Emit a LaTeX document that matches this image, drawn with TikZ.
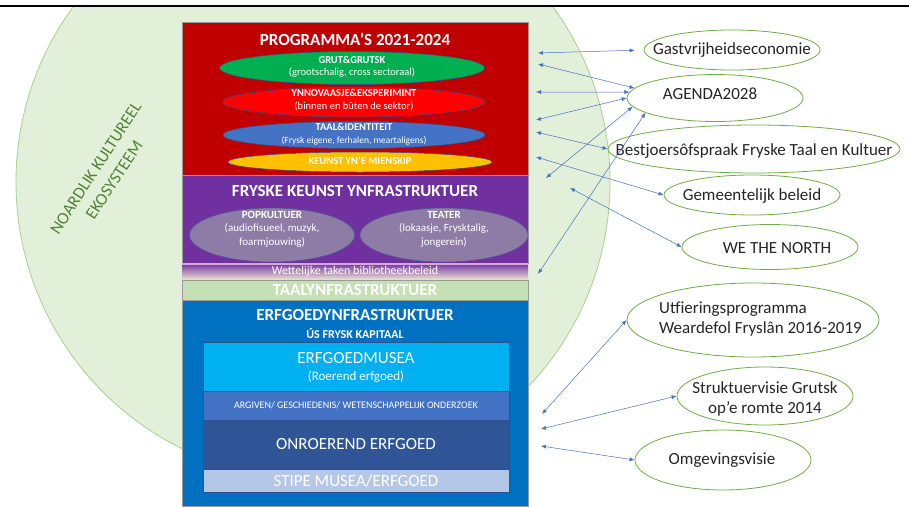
\documentclass[tikz,border=0pt]{standalone}
\usepackage{fontspec}
\setmainfont{Carlito}
\usetikzlibrary{arrows.meta, shapes.geometric}

\definecolor{progred}{HTML}{C00000}
\definecolor{fryskpurple}{HTML}{7030A0}
\definecolor{cream}{HTML}{EEE6D2}
\definecolor{lilac}{HTML}{D9A6D9}
\definecolor{taalgreen}{HTML}{C5E0B4}
\definecolor{erfblue}{HTML}{0070C0}
\definecolor{museablue}{HTML}{00B0F0}
\definecolor{argblue}{HTML}{4472C4}
\definecolor{onblue}{HTML}{2F5597}
\definecolor{stipeblue}{HTML}{B4C7E7}
\definecolor{darkblue}{HTML}{2F528F}
\definecolor{grutgreen}{HTML}{00B050}
\definecolor{ynred}{HTML}{FF0000}
\definecolor{keunstyellow}{HTML}{FFC000}
\definecolor{popfill}{HTML}{8E7CA6}
\definecolor{popline}{HTML}{4A5D8F}
\definecolor{circlefill}{HTML}{E2F0D9}
\definecolor{circleline}{HTML}{A9D18E}
\definecolor{extgreen}{HTML}{70AD47}
\definecolor{linkblue}{HTML}{4472C4}
\definecolor{darktext}{HTML}{262626}
\definecolor{labelgreen}{HTML}{548235}

\begin{document}
\begin{tikzpicture}[x=1pt, y=-1pt,
		layer/.style={rectangle, draw=gray!80, line width=0.4pt, minimum width=346pt, inner sep=0pt},
		inbox/.style={rectangle, draw=darkblue, line width=0.4pt, minimum width=306pt, inner sep=0pt},
		prog/.style={ellipse, draw=darkblue, line width=0.5pt, inner sep=0pt},
		pop/.style={ellipse, draw=popline, fill=popfill, line width=0.6pt, inner sep=0pt, minimum width=165pt, minimum height=54pt},
		ext/.style={ellipse, draw=extgreen, fill=white, line width=0.8pt, inner sep=0pt, minimum width=176pt},
		head/.style={text=white, inner sep=0pt, font=\bfseries\fontsize{17}{20}\selectfont},
		small/.style={text=white, align=center, inner sep=0pt, font=\fontsize{10.5}{12.5}\selectfont},
		exttext/.style={text=darktext, align=left, inner sep=0pt, font=\fontsize{17}{20}\selectfont},
		link/.style={<->, >={Latex[length=5pt, width=4pt]}, draw=linkblue, line width=0.5pt}
		]
		\useasboundingbox (0,0) rectangle (909,506);
		\begin{scope}
		\clip (0,6) rectangle (909,506);
		\node[circle, draw=circleline, fill=circlefill, line width=0.8pt, minimum size=594pt, inner sep=0pt] (C0) at (313,182) {};
		\end{scope}
		\draw[line width=1.2pt] (0,6) -- (909,6);
		\node[rotate=57, text=labelgreen, align=center, inner sep=0pt, font=\fontsize{17}{22}\selectfont] (N1) at (105,174) {NOARDLIK KULTUREEL\\EKOSYSTEEM};
		
		\node[layer, fill=progred, minimum height=153pt] (L1) at (355,98.5) {};
		\node[layer, fill=fryskpurple, minimum height=88pt] (L2) at (355,219) {};
		\node[layer, draw=none, top color=fryskpurple, bottom color=cream, minimum height=17pt] (L3) at (355,271.5) {};
		\draw[lilac, line width=2.5pt] (L3.north west) ++(0,1.25) -- ++(346,0);
		\node[layer, fill=taalgreen, minimum height=20pt] (L4) at (355,290) {};
		\node[layer, fill=erfblue, minimum height=206pt] (L5) at (355,403) {};
		\node[inbox, fill=museablue, minimum height=49pt] (B1) at (356,366.5) {};
		\node[inbox, fill=argblue, minimum height=29pt] (B2) at (356,405.5) {};
		\node[inbox, fill=onblue, minimum height=48pt] (B3) at (356,444) {};
		\node[inbox, fill=stipeblue, minimum height=23pt] (B4) at (356,480.5) {};
		
		\node[head] (T1) at (355,39) {PROGRAMMA’S 2021-2024};
		\node[prog, fill=grutgreen, minimum width=265pt, minimum height=33pt] (P1) at (352,68) {};
		\node[small] (T2) at (352,67) {\textbf{GRUT\&GRUTSK}\\(grootschalig, cross sectoraal)};
		\node[prog, fill=ynred, minimum width=262pt, minimum height=30pt] (P2) at (354,102) {};
		\node[small] (T3) at (354,100) {\textbf{YNNOVAASJE\&EKSPERIMINT}\\(binnen en bûten de sektor)};
		\node[prog, fill=argblue, minimum width=262pt, minimum height=27pt] (P3) at (354,135) {};
		\node[small] (T4) at (354,134) {\textbf{TAAL\&IDENTITEIT}\\{\fontsize{9.5}{11}\selectfont(Frysk eigene, ferhalen, meartaligens)}};
		\node[prog, fill=keunstyellow, minimum width=264pt, minimum height=20pt] (P4) at (360,162) {};
		\node[small, font=\bfseries\fontsize{10.5}{12.5}\selectfont] (T5) at (360,161) {KEUNST YN’E MIENSKIP};
		
		\node[head] (T6) at (355,191) {FRYSKE KEUNST YNFRASTRUKTUER};
		\node[pop] (K1) at (272,235) {};
		\node[small, font=\fontsize{11}{13.5}\selectfont] (T7) at (272,229) {\textbf{POPKULTUER}\\(audiofisueel, muzyk,\\foarmjouwing)};
		\node[pop, minimum width=168pt] (K2) at (444,235) {};
		\node[small, font=\fontsize{11}{13.5}\selectfont] (T8) at (444,229) {\textbf{TEATER}\\(lokaasje, Frysktalig,\\jongerein)};
		\node[small, font=\fontsize{12}{14}\selectfont] (T9) at (355,271) {Wettelijke taken bibliotheekbeleid};
		\node[head] (T10) at (355,290) {TAALYNFRASTRUKTUER};
		
		\node[head] (T11) at (355,315) {ERFGOEDYNFRASTRUKTUER};
		\node[head, font=\bfseries\fontsize{12}{14}\selectfont] (T12) at (355,333) {ÚS FRYSK KAPITAAL};
		\node[small, font=\fontsize{17}{20}\selectfont] (T13) at (356,358) {ERFGOEDMUSEA};
		\node[small, font=\fontsize{13}{15}\selectfont] (T14) at (356,377) {(Roerend erfgoed)};
		\node[small, font=\fontsize{10}{12}\selectfont] (T15) at (356,405.5) {ARGIVEN/ GESCHIEDENIS/ WETENSCHAPPELIJK ONDERZOEK};
		\node[small, font=\fontsize{17}{20}\selectfont] (T16) at (356,444) {ONROEREND ERFGOED};
		\node[small, font=\fontsize{17}{20}\selectfont] (T17) at (356,480.5) {STIPE MUSEA/ERFGOED};
		
		\node[ext, minimum height=40pt] (E1) at (732,50) {};
		\node[exttext] (U1) at (E1) {Gastvrijheidseconomie};
		\node[ext, minimum height=47pt] (E2) at (715,98) {};
		\node[exttext] (U2) at (710,94) {AGENDA2028};
		\node[ext, minimum width=292pt, minimum height=48pt] (E3) at (754,149) {};
		\node[exttext] (U3) at (754,151) {Bestjoersôfspraak Fryske Taal en Kultuer};
		\node[ext, minimum height=40pt] (E4) at (752,195) {};
		\node[exttext] (U4) at (752,196) {Gemeentelijk beleid};
		\node[ext, minimum height=45pt] (E5) at (770,247) {};
		\node[exttext] (U5) at (777,248) {WE THE NORTH};
		\node[ext, minimum width=252pt, minimum height=74pt] (E6) at (753,320) {};
		\node[exttext, anchor=west] (U6) at (659,319) {Utfieringsprogramma\\Weardefol Fryslân 2016-2019};
		\node[ext, minimum height=58pt] (E7) at (765,396) {};
		\node[exttext, align=center] (U7) at (765,399) {Struktuervisie Grutsk\\op’e romte 2014};
		\node[ext, minimum height=60pt] (E8) at (723,460) {};
		\node[exttext] (U8) at (722,460) {Omgevingsvisie};
		
		\coordinate (A1) at (538,53);
		\coordinate (A2) at (538,64);
		\coordinate (A3) at (536,92);
		\coordinate (A4) at (536,120);
		\coordinate (A5) at (536,132);
		\coordinate (A6) at (536,157);
		\coordinate (A7) at (546,178);
		\coordinate (A8) at (570,188);
		\coordinate (A9) at (538,274);
		\coordinate (A10) at (542,414);
		\coordinate (A11) at (541,429);
		\coordinate (A12) at (541,446);
		
		\draw[link, shorten >=9pt] (A1) -- (E1.west);
		\draw[link] (A2) -- (E2.173);
		\draw[link] (A3) -- (E2.176);
		\draw[link] (A4) -- (E2.west);
		\draw[link] (A5) -- (E3.west);
		\draw[link] (A6) -- (E4.west);
		\draw[link] (A7) -- (E2.186);
		\draw[link] (A8) -- (E5.west);
		\draw[link] (A9) -- (E2.192);
		\draw[link] (A10) -- (E6.west);
		\draw[link] (A11) -- (E7.west);
		\draw[link] (A12) -- (E8.west);
\end{tikzpicture}
\end{document}
